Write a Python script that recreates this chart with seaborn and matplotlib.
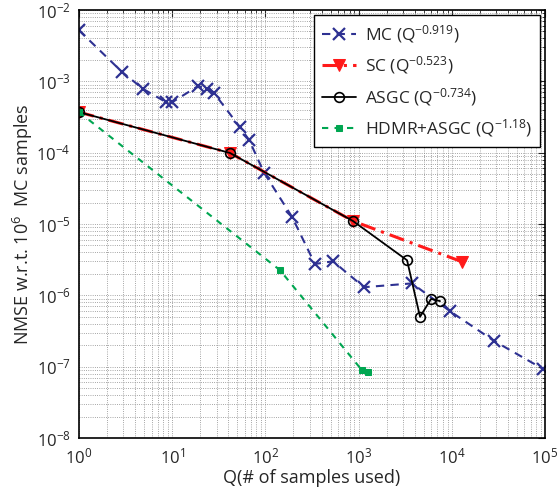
import numpy as np
import pandas as pd
import matplotlib
matplotlib.use('Agg')
import matplotlib.pyplot as plt
import seaborn as sns
from matplotlib.ticker import LogLocator, NullFormatter

# MC
mc_q = [1, 2.9, 4.9, 8.6, 10, 19, 23.6, 28, 53, 67, 97, 193, 340, 531, 1143,
        3740, 9550, 28300, 95000]
mc_err = [5.2e-3, 1.35e-3, 7.8e-4, 5.1e-4, 5.1e-4, 8.6e-4, 7.8e-4, 6.9e-4,
          2.3e-4, 1.5e-4, 5.2e-5, 1.26e-5, 2.75e-6, 3.0e-6, 1.3e-6, 1.47e-6,
          6.0e-7, 2.3e-7, 9.3e-8]

# SC
sc_q = [1, 41.7, 871, 12900]
sc_err = [3.7e-4, 9.9e-5, 1.1e-5, 2.95e-6]

# ASGC
asgc_q = [1, 41.7, 871, 3310, 4560, 5990, 7470]
asgc_err = [3.7e-4, 9.9e-5, 1.1e-5, 3.1e-6, 5.0e-7, 8.9e-7, 8.3e-7]

# HDMR+ASGC
hdmr_q = [1, 143, 1087, 1260]
hdmr_err = [3.7e-4, 2.26e-6, 8.9e-8, 8.3e-8]

labels = ["MC (Q$^{-0.919}$)", "SC (Q$^{-0.523}$)", "ASGC (Q$^{-0.734}$)",
          "HDMR+ASGC (Q$^{-1.18}$)"]

sns.set_style("white")
plt.rcParams['font.family'] = ['Open Sans', 'DejaVu Sans']
plt.rcParams['mathtext.fontset'] = 'custom'
plt.rcParams['mathtext.rm'] = 'Open Sans'
plt.rcParams['mathtext.it'] = 'Open Sans:italic'
plt.rcParams['mathtext.bf'] = 'Open Sans:bold'

fig = plt.figure(figsize=(5.59, 4.91), dpi=100)
ax = fig.add_axes([0.1413, 0.108, 0.975 - 0.1413, 0.9796 - 0.108])

blue = "#2E3192"
red = "#FF1A1A"
green = "#00A651"

sns.lineplot(x=mc_q, y=mc_err, ax=ax, sort=False, estimator=None, color=blue,
             linestyle=(0, (4, 3)), linewidth=1.5, marker="x", markersize=9,
             markeredgewidth=1.6, markeredgecolor=blue, label=labels[0])
sns.lineplot(x=sc_q, y=sc_err, ax=ax, sort=False, estimator=None, color=red,
             linestyle=(0, (5, 2, 1, 2)), linewidth=2.2, marker="v", markersize=8,
             markerfacecolor=red, markeredgecolor=red, label=labels[1])
sns.lineplot(x=asgc_q, y=asgc_err, ax=ax, sort=False, estimator=None, color="black",
             linestyle="-", linewidth=1.3, marker="o", markersize=7,
             markerfacecolor="none", markeredgecolor="black", markeredgewidth=1.2,
             label=labels[2])
sns.lineplot(x=hdmr_q, y=hdmr_err, ax=ax, sort=False, estimator=None, color=green,
             linestyle=(0, (3, 3)), linewidth=1.5, marker="s", markersize=5,
             markerfacecolor=green, markeredgecolor=green, label=labels[3])

ax.set_xscale("log")
ax.set_yscale("log")
ax.set_xlim(1, 1e5)
ax.set_ylim(1e-8, 1e-2)
ax.xaxis.set_major_locator(LogLocator(base=10, numticks=10))
ax.yaxis.set_major_locator(LogLocator(base=10, numticks=10))
ax.xaxis.set_minor_locator(LogLocator(base=10, subs=np.arange(2, 10), numticks=20))
ax.yaxis.set_minor_locator(LogLocator(base=10, subs=np.arange(2, 10), numticks=20))
ax.xaxis.set_minor_formatter(NullFormatter())
ax.yaxis.set_minor_formatter(NullFormatter())

ax.grid(True, which="both", linestyle=":", linewidth=0.6, color="#888888")
ax.tick_params(which="both", direction="in", top=True, right=True, labelsize=12)
ax.tick_params(axis="x", which="major", pad=7)
ax.tick_params(axis="y", which="major", pad=6)
ax.tick_params(which="major", length=5)
ax.tick_params(which="minor", length=2.5)
for s in ax.spines.values():
    s.set_color("black")
    s.set_linewidth(1.2)

ax.set_xlabel("Q(# of samples used)", fontsize=13, labelpad=1)
ax.set_ylabel("NMSE w.r.t. 10$^6$  MC samples", fontsize=13, labelpad=1)

leg = ax.legend(loc="upper right", fontsize=12.5, frameon=True, fancybox=False,
                edgecolor="black", framealpha=1, borderaxespad=0.3,
                handlelength=2.0, labelspacing=0.55, borderpad=0.45,
                handletextpad=0.5)
leg.get_frame().set_linewidth(1.0)

fig.savefig("out.png", dpi=100)
